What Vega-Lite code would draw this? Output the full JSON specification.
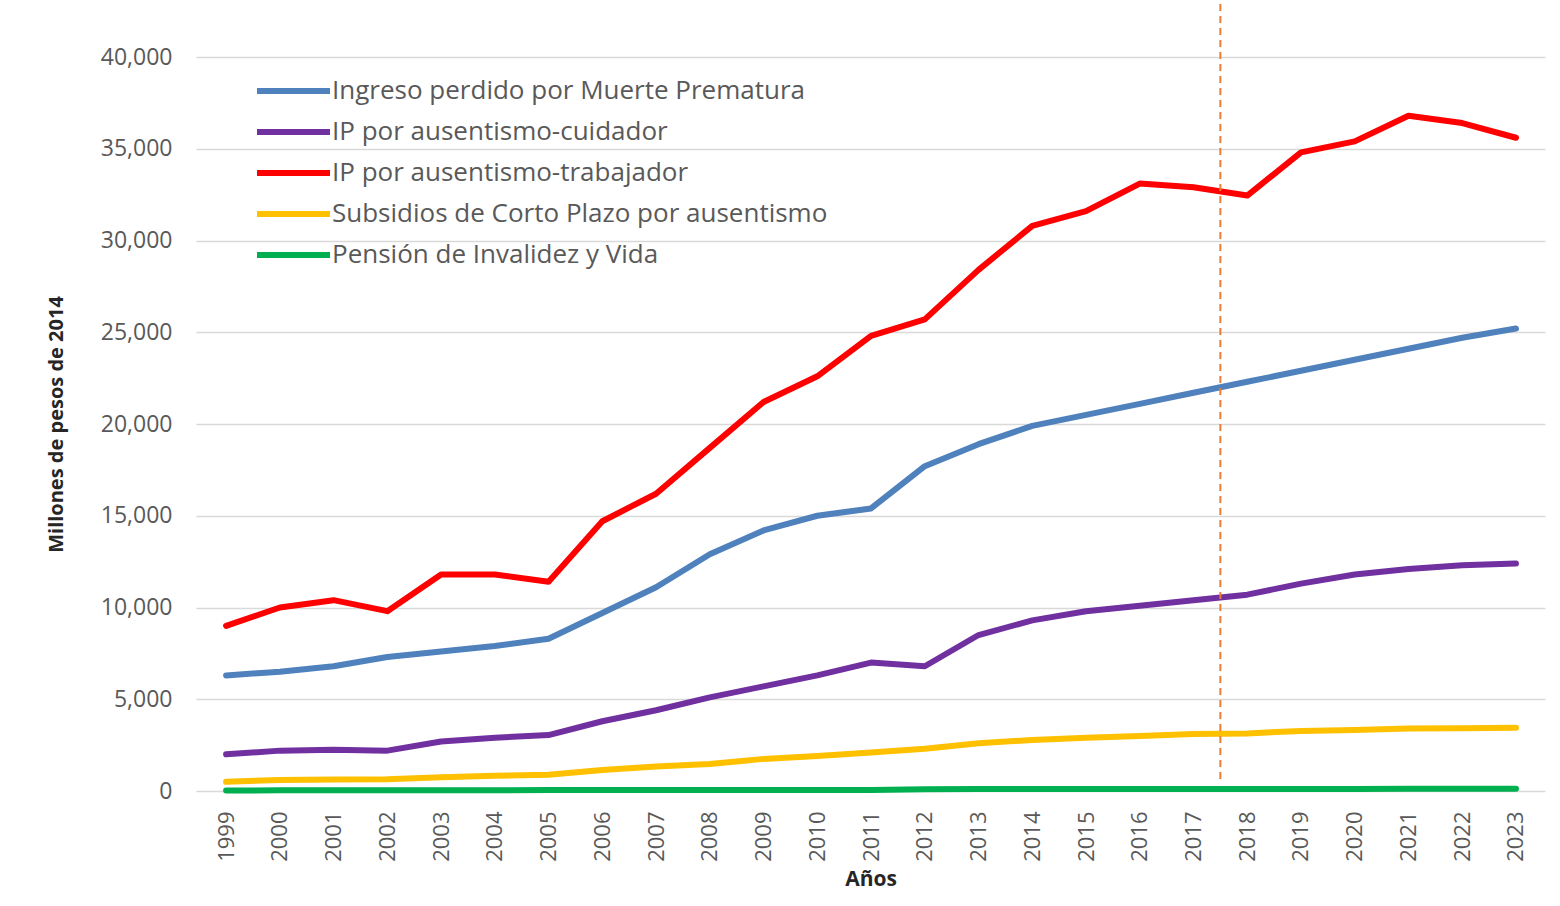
{
  "$schema": "https://vega.github.io/schema/vega-lite/v6.json",
  "width": 1349,
  "height": 734,
  "autosize": {"type": "none"},
  "padding": {"left": 196, "top": 57, "right": 15, "bottom": 115},
  "background": "white",
  "config": {
    "view": {"stroke": null},
    "font": "Open Sans"
  },
  "datasets": {
    "series": [
      {"year": 1999, "serie": "Ingreso perdido por Muerte Prematura", "value": 6300},
      {"year": 2000, "serie": "Ingreso perdido por Muerte Prematura", "value": 6500},
      {"year": 2001, "serie": "Ingreso perdido por Muerte Prematura", "value": 6800},
      {"year": 2002, "serie": "Ingreso perdido por Muerte Prematura", "value": 7300},
      {"year": 2003, "serie": "Ingreso perdido por Muerte Prematura", "value": 7600},
      {"year": 2004, "serie": "Ingreso perdido por Muerte Prematura", "value": 7900},
      {"year": 2005, "serie": "Ingreso perdido por Muerte Prematura", "value": 8300},
      {"year": 2006, "serie": "Ingreso perdido por Muerte Prematura", "value": 9700},
      {"year": 2007, "serie": "Ingreso perdido por Muerte Prematura", "value": 11100},
      {"year": 2008, "serie": "Ingreso perdido por Muerte Prematura", "value": 12900},
      {"year": 2009, "serie": "Ingreso perdido por Muerte Prematura", "value": 14200},
      {"year": 2010, "serie": "Ingreso perdido por Muerte Prematura", "value": 15000},
      {"year": 2011, "serie": "Ingreso perdido por Muerte Prematura", "value": 15400},
      {"year": 2012, "serie": "Ingreso perdido por Muerte Prematura", "value": 17700},
      {"year": 2013, "serie": "Ingreso perdido por Muerte Prematura", "value": 18900},
      {"year": 2014, "serie": "Ingreso perdido por Muerte Prematura", "value": 19900},
      {"year": 2015, "serie": "Ingreso perdido por Muerte Prematura", "value": 20500},
      {"year": 2016, "serie": "Ingreso perdido por Muerte Prematura", "value": 21100},
      {"year": 2017, "serie": "Ingreso perdido por Muerte Prematura", "value": 21700},
      {"year": 2018, "serie": "Ingreso perdido por Muerte Prematura", "value": 22300},
      {"year": 2019, "serie": "Ingreso perdido por Muerte Prematura", "value": 22900},
      {"year": 2020, "serie": "Ingreso perdido por Muerte Prematura", "value": 23500},
      {"year": 2021, "serie": "Ingreso perdido por Muerte Prematura", "value": 24100},
      {"year": 2022, "serie": "Ingreso perdido por Muerte Prematura", "value": 24700},
      {"year": 2023, "serie": "Ingreso perdido por Muerte Prematura", "value": 25200},
      {"year": 1999, "serie": "IP por ausentismo-cuidador", "value": 2000},
      {"year": 2000, "serie": "IP por ausentismo-cuidador", "value": 2200},
      {"year": 2001, "serie": "IP por ausentismo-cuidador", "value": 2250},
      {"year": 2002, "serie": "IP por ausentismo-cuidador", "value": 2200},
      {"year": 2003, "serie": "IP por ausentismo-cuidador", "value": 2700},
      {"year": 2004, "serie": "IP por ausentismo-cuidador", "value": 2900},
      {"year": 2005, "serie": "IP por ausentismo-cuidador", "value": 3050},
      {"year": 2006, "serie": "IP por ausentismo-cuidador", "value": 3800},
      {"year": 2007, "serie": "IP por ausentismo-cuidador", "value": 4400},
      {"year": 2008, "serie": "IP por ausentismo-cuidador", "value": 5100},
      {"year": 2009, "serie": "IP por ausentismo-cuidador", "value": 5700},
      {"year": 2010, "serie": "IP por ausentismo-cuidador", "value": 6300},
      {"year": 2011, "serie": "IP por ausentismo-cuidador", "value": 7000},
      {"year": 2012, "serie": "IP por ausentismo-cuidador", "value": 6800},
      {"year": 2013, "serie": "IP por ausentismo-cuidador", "value": 8500},
      {"year": 2014, "serie": "IP por ausentismo-cuidador", "value": 9300},
      {"year": 2015, "serie": "IP por ausentismo-cuidador", "value": 9800},
      {"year": 2016, "serie": "IP por ausentismo-cuidador", "value": 10100},
      {"year": 2017, "serie": "IP por ausentismo-cuidador", "value": 10400},
      {"year": 2018, "serie": "IP por ausentismo-cuidador", "value": 10700},
      {"year": 2019, "serie": "IP por ausentismo-cuidador", "value": 11300},
      {"year": 2020, "serie": "IP por ausentismo-cuidador", "value": 11800},
      {"year": 2021, "serie": "IP por ausentismo-cuidador", "value": 12100},
      {"year": 2022, "serie": "IP por ausentismo-cuidador", "value": 12300},
      {"year": 2023, "serie": "IP por ausentismo-cuidador", "value": 12400},
      {"year": 1999, "serie": "IP por ausentismo-trabajador", "value": 9000},
      {"year": 2000, "serie": "IP por ausentismo-trabajador", "value": 10000},
      {"year": 2001, "serie": "IP por ausentismo-trabajador", "value": 10400},
      {"year": 2002, "serie": "IP por ausentismo-trabajador", "value": 9800},
      {"year": 2003, "serie": "IP por ausentismo-trabajador", "value": 11800},
      {"year": 2004, "serie": "IP por ausentismo-trabajador", "value": 11800},
      {"year": 2005, "serie": "IP por ausentismo-trabajador", "value": 11400},
      {"year": 2006, "serie": "IP por ausentismo-trabajador", "value": 14700},
      {"year": 2007, "serie": "IP por ausentismo-trabajador", "value": 16200},
      {"year": 2008, "serie": "IP por ausentismo-trabajador", "value": 18700},
      {"year": 2009, "serie": "IP por ausentismo-trabajador", "value": 21200},
      {"year": 2010, "serie": "IP por ausentismo-trabajador", "value": 22600},
      {"year": 2011, "serie": "IP por ausentismo-trabajador", "value": 24800},
      {"year": 2012, "serie": "IP por ausentismo-trabajador", "value": 25700},
      {"year": 2013, "serie": "IP por ausentismo-trabajador", "value": 28400},
      {"year": 2014, "serie": "IP por ausentismo-trabajador", "value": 30800},
      {"year": 2015, "serie": "IP por ausentismo-trabajador", "value": 31600},
      {"year": 2016, "serie": "IP por ausentismo-trabajador", "value": 33100},
      {"year": 2017, "serie": "IP por ausentismo-trabajador", "value": 32900},
      {"year": 2018, "serie": "IP por ausentismo-trabajador", "value": 32450},
      {"year": 2019, "serie": "IP por ausentismo-trabajador", "value": 34800},
      {"year": 2020, "serie": "IP por ausentismo-trabajador", "value": 35400},
      {"year": 2021, "serie": "IP por ausentismo-trabajador", "value": 36800},
      {"year": 2022, "serie": "IP por ausentismo-trabajador", "value": 36400},
      {"year": 2023, "serie": "IP por ausentismo-trabajador", "value": 35600},
      {"year": 1999, "serie": "Subsidios de Corto Plazo por ausentismo", "value": 500},
      {"year": 2000, "serie": "Subsidios de Corto Plazo por ausentismo", "value": 600},
      {"year": 2001, "serie": "Subsidios de Corto Plazo por ausentismo", "value": 630},
      {"year": 2002, "serie": "Subsidios de Corto Plazo por ausentismo", "value": 640},
      {"year": 2003, "serie": "Subsidios de Corto Plazo por ausentismo", "value": 750},
      {"year": 2004, "serie": "Subsidios de Corto Plazo por ausentismo", "value": 830},
      {"year": 2005, "serie": "Subsidios de Corto Plazo por ausentismo", "value": 880},
      {"year": 2006, "serie": "Subsidios de Corto Plazo por ausentismo", "value": 1150},
      {"year": 2007, "serie": "Subsidios de Corto Plazo por ausentismo", "value": 1330},
      {"year": 2008, "serie": "Subsidios de Corto Plazo por ausentismo", "value": 1470},
      {"year": 2009, "serie": "Subsidios de Corto Plazo por ausentismo", "value": 1750},
      {"year": 2010, "serie": "Subsidios de Corto Plazo por ausentismo", "value": 1910},
      {"year": 2011, "serie": "Subsidios de Corto Plazo por ausentismo", "value": 2100},
      {"year": 2012, "serie": "Subsidios de Corto Plazo por ausentismo", "value": 2300},
      {"year": 2013, "serie": "Subsidios de Corto Plazo por ausentismo", "value": 2600},
      {"year": 2014, "serie": "Subsidios de Corto Plazo por ausentismo", "value": 2780},
      {"year": 2015, "serie": "Subsidios de Corto Plazo por ausentismo", "value": 2900},
      {"year": 2016, "serie": "Subsidios de Corto Plazo por ausentismo", "value": 3000},
      {"year": 2017, "serie": "Subsidios de Corto Plazo por ausentismo", "value": 3100},
      {"year": 2018, "serie": "Subsidios de Corto Plazo por ausentismo", "value": 3140},
      {"year": 2019, "serie": "Subsidios de Corto Plazo por ausentismo", "value": 3270},
      {"year": 2020, "serie": "Subsidios de Corto Plazo por ausentismo", "value": 3320},
      {"year": 2021, "serie": "Subsidios de Corto Plazo por ausentismo", "value": 3400},
      {"year": 2022, "serie": "Subsidios de Corto Plazo por ausentismo", "value": 3420},
      {"year": 2023, "serie": "Subsidios de Corto Plazo por ausentismo", "value": 3450},
      {"year": 1999, "serie": "Pensión de Invalidez y Vida", "value": 30},
      {"year": 2000, "serie": "Pensión de Invalidez y Vida", "value": 35},
      {"year": 2001, "serie": "Pensión de Invalidez y Vida", "value": 40},
      {"year": 2002, "serie": "Pensión de Invalidez y Vida", "value": 40},
      {"year": 2003, "serie": "Pensión de Invalidez y Vida", "value": 45},
      {"year": 2004, "serie": "Pensión de Invalidez y Vida", "value": 45},
      {"year": 2005, "serie": "Pensión de Invalidez y Vida", "value": 50},
      {"year": 2006, "serie": "Pensión de Invalidez y Vida", "value": 50},
      {"year": 2007, "serie": "Pensión de Invalidez y Vida", "value": 55},
      {"year": 2008, "serie": "Pensión de Invalidez y Vida", "value": 55},
      {"year": 2009, "serie": "Pensión de Invalidez y Vida", "value": 60},
      {"year": 2010, "serie": "Pensión de Invalidez y Vida", "value": 60},
      {"year": 2011, "serie": "Pensión de Invalidez y Vida", "value": 60},
      {"year": 2012, "serie": "Pensión de Invalidez y Vida", "value": 100},
      {"year": 2013, "serie": "Pensión de Invalidez y Vida", "value": 105},
      {"year": 2014, "serie": "Pensión de Invalidez y Vida", "value": 105},
      {"year": 2015, "serie": "Pensión de Invalidez y Vida", "value": 110},
      {"year": 2016, "serie": "Pensión de Invalidez y Vida", "value": 110},
      {"year": 2017, "serie": "Pensión de Invalidez y Vida", "value": 110},
      {"year": 2018, "serie": "Pensión de Invalidez y Vida", "value": 115},
      {"year": 2019, "serie": "Pensión de Invalidez y Vida", "value": 115},
      {"year": 2020, "serie": "Pensión de Invalidez y Vida", "value": 115},
      {"year": 2021, "serie": "Pensión de Invalidez y Vida", "value": 120},
      {"year": 2022, "serie": "Pensión de Invalidez y Vida", "value": 120},
      {"year": 2023, "serie": "Pensión de Invalidez y Vida", "value": 120}
    ],
    "marker": [
      {"year": 2017.5, "low": 650, "high": 43300}
    ]
  },
  "layer": [
    {
      "data": {"name": "series"},
      "mark": {"type": "line", "strokeWidth": 6, "strokeCap": "round", "strokeJoin": "round"},
      "encoding": {
        "x": {
          "field": "year",
          "type": "quantitative",
          "scale": {"domain": [1998.44, 2023.54], "nice": false, "zero": false},
          "axis": {
            "values": [1999, 2000, 2001, 2002, 2003, 2004, 2005, 2006, 2007, 2008, 2009, 2010, 2011, 2012, 2013, 2014, 2015, 2016, 2017, 2018, 2019, 2020, 2021, 2022, 2023],
            "format": "d",
            "labelAngle": -90,
            "labelAlign": "right",
            "labelBaseline": "middle",
            "labelFont": "Open Sans",
            "labelFontSize": 22,
            "labelColor": "#595959",
            "labelPadding": 20,
            "labelOverlap": false,
            "labelFlush": false,
            "domain": false,
            "ticks": false,
            "grid": false,
            "title": "Años",
            "titleFont": "Open Sans",
            "titleFontSize": 21,
            "titleFontWeight": "bold",
            "titleColor": "#262626",
            "titlePadding": 7
          }
        },
        "y": {
          "field": "value",
          "type": "quantitative",
          "scale": {"domain": [0, 40000], "nice": false},
          "axis": {
            "values": [0, 5000, 10000, 15000, 20000, 25000, 30000, 35000, 40000],
            "format": ",.0f",
            "labelFont": "Open Sans",
            "labelFontSize": 23,
            "labelColor": "#595959",
            "labelPadding": 24,
            "domain": false,
            "ticks": false,
            "grid": true,
            "gridColor": "#D9D9D9",
            "gridWidth": 1.5,
            "title": "Millones de pesos de 2014",
            "titleFont": "Open Sans",
            "titleFontSize": 20,
            "titleFontWeight": "bold",
            "titleColor": "#262626",
            "titlePadding": 34
          }
        },
        "color": {
          "field": "serie",
          "type": "nominal",
          "sort": ["Ingreso perdido por Muerte Prematura", "IP por ausentismo-cuidador", "IP por ausentismo-trabajador", "Subsidios de Corto Plazo por ausentismo", "Pensión de Invalidez y Vida"],
          "scale": {
            "domain": ["Ingreso perdido por Muerte Prematura", "IP por ausentismo-cuidador", "IP por ausentismo-trabajador", "Subsidios de Corto Plazo por ausentismo", "Pensión de Invalidez y Vida"],
            "range": ["#4F81BD", "#7030A0", "#FF0000", "#FFC000", "#00B050"]
          },
          "legend": {
            "title": null,
            "orient": "none",
            "legendX": 58,
            "legendY": 21,
            "padding": 0,
            "symbolType": "stroke",
            "symbolSize": 5329,
            "symbolStrokeWidth": 6,
            "clipHeight": 26,
            "rowPadding": 15,
            "labelOffset": -1,
            "labelFont": "Open Sans",
            "labelFontSize": 26,
            "labelColor": "#595959",
            "labelLimit": 1000
          }
        },
        "order": {"field": "year"}
      }
    },
    {
      "data": {"name": "marker"},
      "mark": {"type": "rule", "color": "#ED7D31", "strokeWidth": 2, "strokeDash": [7, 5]},
      "encoding": {
        "x": {"field": "year", "type": "quantitative"},
        "y": {"field": "low", "type": "quantitative"},
        "y2": {"field": "high"}
      }
    }
  ]
}
